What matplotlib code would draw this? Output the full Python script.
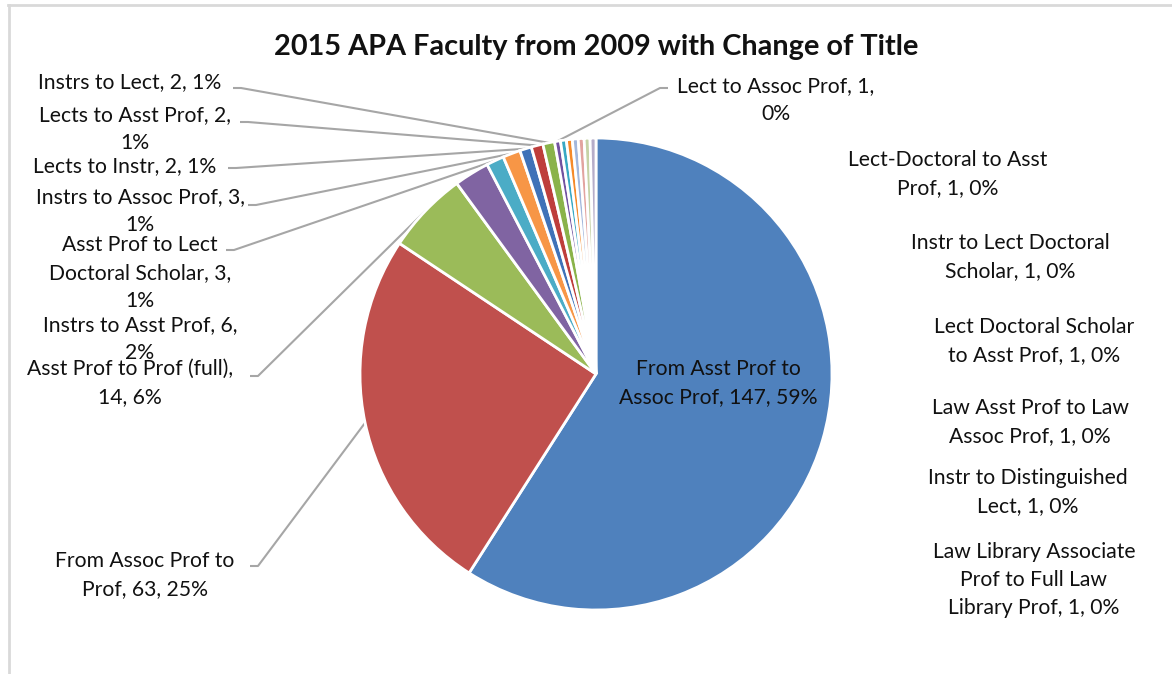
import textwrap
import numpy as np
import matplotlib
matplotlib.use("Agg")
import matplotlib.pyplot as plt

W, H = 1172, 674
CX, CY, R = 596, 374, 236  # pie centre / radius in pixels (y down)

TITLE = "2015 APA Faculty from 2009 with Change of Title"

categories = [
    "From Asst Prof to Assoc Prof",
    "From Assoc Prof to Prof",
    "Asst Prof to Prof (full)",
    "Instrs to Asst Prof",
    "Asst Prof to Lect Doctoral Scholar",
    "Instrs to Assoc Prof",
    "Lects to Instr",
    "Lects to Asst Prof",
    "Instrs to Lect",
    "Lect to Assoc Prof",
    "Lect-Doctoral to Asst Prof",
    "Instr to Lect Doctoral Scholar",
    "Lect Doctoral Scholar to Asst Prof",
    "Law Asst Prof to Law Assoc Prof",
    "Instr to Distinguished Lect",
    "Law Library Associate Prof to Full Law Library Prof",
]
counts = [147, 63, 14, 6, 3, 3, 2, 2, 2, 1, 1, 1, 1, 1, 1, 1]

colors = [
    "#4F81BD", "#C0504D", "#9BBB59", "#8064A2", "#4BACC6", "#F79646",
    "#3F72B8", "#BE3E3B", "#8AB34A", "#7152A0", "#38A8C4", "#F58A2A",
    "#A3B7DC", "#E2A39F", "#C6D2A6", "#B6ADC9",
]

# label layout: wrap width (chars), block centre in pixels, leader start (None = no leader)
wrap_widths = [20, 20, 25, 23, 20, 24, 30, 22, 30, 22, 21, 22, 21, 20, 22, 21]
label_xy = [
    (718, 383), (145, 575), (130, 383), (140, 339), (140, 273), (140, 211),
    (125, 166), (135, 129), (130, 82), (776, 100), (948, 174), (1010, 257),
    (1034, 341), (1030, 422), (1028, 492), (1034, 580),
]
leader_from = [
    None, (250, 566), (250, 376), None, (226, 250), (248, 205),
    (228, 168), (240, 122), (233, 88), (668, 88), None, None,
    None, None, None, None,
]

FONT = ["Lato", "DejaVu Sans"]

fig = plt.figure(figsize=(W / 100, H / 100), dpi=100)
ax = fig.add_axes([0, 0, 1, 1])
ax.set_xlim(0, W)
ax.set_ylim(0, H)
ax.set_aspect("equal")
ax.axis("off")


def py(y):
    return H - y


wedges, _ = ax.pie(
    counts, colors=colors, startangle=90, counterclock=False,
    center=(CX, py(CY)), radius=R, frame=False,
    wedgeprops=dict(edgecolor="white", linewidth=2),
)
ax.set_xlim(0, W)
ax.set_ylim(0, H)

total = sum(counts)
cum = np.cumsum([0] + counts)
for i, (name, n) in enumerate(zip(categories, counts)):
    pct = int(round(100 * n / total))
    txt = textwrap.fill(f"{name}, {n}, {pct}%", width=wrap_widths[i], break_on_hyphens=False)
    lx, ly = label_xy[i]
    ax.text(lx, py(ly), txt, ha="center", va="center", fontsize=15.2,
            family=FONT, color="#111111", linespacing=1.5)
    if leader_from[i] is not None:
        mid = (cum[i] + cum[i + 1]) / 2 / total * 2 * np.pi
        ex, ey = CX + R * np.sin(mid), CY - R * np.cos(mid)
        sx, sy = leader_from[i]
        step = 8 if ex > sx else -8
        ax.plot([sx, sx + step, ex], [py(sy), py(sy), py(ey)],
                color="#A6A6A6", lw=1.5, solid_capstyle="butt", zorder=0)

ax.text(596, py(47), TITLE, ha="center", va="center", fontsize=20.8,
        fontweight="bold", family=FONT, color="#111111")

# chart frame edges
ax.plot([8, W], [py(5), py(5)], color="#D9D9D9", lw=2)
ax.plot([9, 9], [py(5), 0], color="#D9D9D9", lw=2)

fig.savefig("out.png", dpi=100)
